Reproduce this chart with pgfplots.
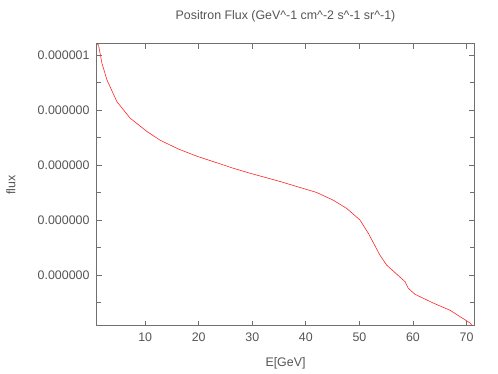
\documentclass[border=0pt]{standalone}
\usepackage{fontspec}
\setmainfont{Liberation Sans}
\usepackage{pgfplots}
\pgfplotsset{compat=1.18}
\definecolor{txt}{HTML}{555555}
\definecolor{frame}{HTML}{707070}

\begin{document}
\begin{tikzpicture}
\useasboundingbox (0,0) rectangle (498pt,374pt);
\begin{axis}[
  at={(97pt,48pt)},anchor=south west,
  scale only axis,width=377pt,height=282pt,
  xmin=1,xmax=71.4,ymin=0.073e-7,ymax=5.2e-7,
  xtick={10,20,...,70},
  ytick={1e-7,2e-7,3e-7,4e-7,5e-7},
  yticklabels={0.000000,0.000000,0.000000,0.000000,0.000001},
  minor ytick={0.5e-7,1.5e-7,2.5e-7,3.5e-7,4.5e-7},
  scaled y ticks=false,
  tick align=inside,major tick length=5pt,minor tick length=4pt,
  every tick/.style={frame,line width=0.8pt},
  axis line style={frame,line width=1pt},
  tick label style={font=\fontsize{12.4}{14}\selectfont,text=txt},
  /pgf/number format/assume math mode=true,
  yticklabel style={xshift=-4pt},
  xticklabel style={yshift=-3pt},
  title={Positron Flux (GeV\^{}-1 cm\^{}-2 s\^{}-1 sr\^{}-1)},
  title style={at={(rel axis cs:0.5,1)},anchor=center,yshift=21.5pt,font=\fontsize{12.4}{14}\selectfont,text=txt},
  xlabel={E[GeV]},
  xlabel style={at={(rel axis cs:0.5,0)},anchor=center,yshift=-37pt,font=\fontsize{12.4}{14}\selectfont,text=txt},
  ylabel={flux},
  ylabel style={at={([xshift=-86pt]rel axis cs:0,0.5)},anchor=center,font=\fontsize{12.4}{14}\selectfont,text=txt},
]
\addplot[red!85!white,line width=0.6pt] coordinates {
  (1.04,5.20e-7) (1.29,5.18e-7) (1.92,4.85e-7) (2.85,4.55e-7) (4.72,4.15e-7)
  (7.20,3.85e-7) (10.32,3.61e-7) (12.80,3.45e-7) (16.21,3.29e-7) (19.65,3.16e-7)
  (23.38,3.04e-7) (26.47,2.94e-7) (29.59,2.85e-7) (35.19,2.70e-7) (42.03,2.50e-7)
  (45.13,2.36e-7) (47.63,2.21e-7) (50.11,2.00e-7) (51.66,1.76e-7) (53.84,1.36e-7)
  (55.09,1.18e-7) (58.51,0.88e-7) (59.12,0.76e-7) (60.37,0.65e-7) (63.79,0.49e-7)
  (66.90,0.36e-7) (70.63,0.13e-7) (71.25,0.06e-7)
};
\end{axis}
\end{tikzpicture}
\end{document}
